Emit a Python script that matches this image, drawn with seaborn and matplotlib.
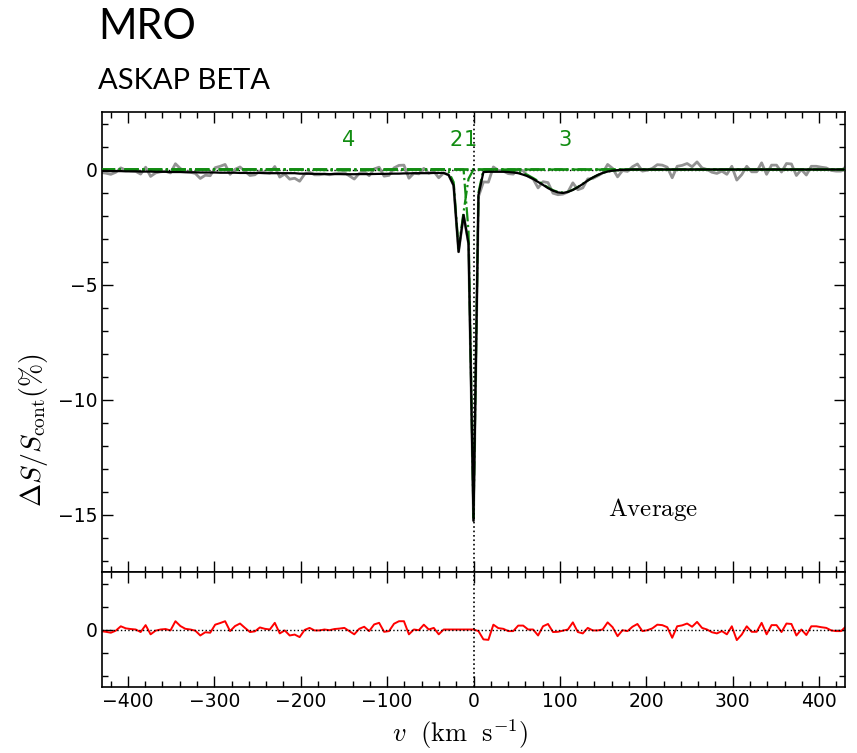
import numpy as np
import matplotlib
matplotlib.use("Agg")
import matplotlib.pyplot as plt
import seaborn as sns
from matplotlib.ticker import MultipleLocator, FixedLocator

sns.set_style("ticks")
plt.rcParams["font.family"] = ["DejaVu Sans"]
plt.rcParams["mathtext.fontset"] = "cm"
plt.rcParams["text.color"] = "black"

# ---- data ----
chan_width = 5.75
v = np.arange(-75, 76) * chan_width  # channel velocities (km/s)

resid = [-0.07, -0.10, -0.14, -0.05, 0.14, 0.05, 0.02, 0.00, -0.11, 0.19,
         -0.21, -0.05, 0.00, 0.02, -0.04, 0.36, 0.15, 0.03, 0.00, -0.05,
         -0.26, -0.12, -0.14, 0.21, 0.28, 0.36, -0.07, 0.15, 0.26, 0.07,
         -0.11, -0.08, 0.09, 0.03, 0.00, 0.29, -0.17, -0.04, -0.26, -0.22,
         -0.33, -0.02, 0.07, -0.04, -0.04, 0.00, -0.03, 0.02, 0.04, 0.07,
         -0.07, -0.21, 0.03, 0.12, -0.07, 0.22, 0.29, -0.10, -0.07, 0.25,
         0.36, 0.36, -0.21, 0.00, -0.03, 0.21, 0.00, 0.07, -0.21, 0.00,
         0.00, 0.00, 0.00, 0.00, 0.00, 0.00, -0.07, -0.43, -0.45, 0.21,
         0.06, 0.03, -0.07, -0.07, 0.17, 0.17, 0.00, 0.00, -0.26, 0.14,
         0.24, -0.11, -0.10, -0.05, 0.00, 0.31, -0.11, -0.17, 0.07, -0.04,
         -0.04, 0.00, 0.31, 0.10, -0.29, -0.03, -0.07, 0.12, 0.24, -0.07,
         -0.03, 0.05, 0.21, 0.19, 0.10, -0.36, 0.14, 0.18, 0.26, 0.12,
         0.33, 0.07, 0.00, -0.12, -0.17, -0.07, -0.21, 0.14, -0.46, -0.22,
         0.14, -0.10, -0.10, 0.29, -0.21, 0.19, 0.19, -0.11, 0.26, 0.24,
         -0.26, 0.00, -0.24, 0.14, 0.14, 0.10, 0.07, -0.04, -0.07, -0.07,
         0.14]

baseline = [-0.06, -0.06, -0.07, -0.07, -0.07, -0.08, -0.08, -0.08, -0.09, -0.09,
            -0.09, -0.10, -0.10, -0.10, -0.11, -0.11, -0.11, -0.12, -0.12, -0.12,
            -0.13, -0.13, -0.13, -0.13, -0.14, -0.14, -0.14, -0.14, -0.15, -0.15,
            -0.15, -0.15, -0.15, -0.16, -0.16, -0.16, -0.16, -0.16, -0.16, -0.16,
            -0.17, -0.17, -0.17, -0.17, -0.17, -0.17, -0.17, -0.17, -0.17, -0.17,
            -0.17, -0.17, -0.17, -0.17, -0.17, -0.17, -0.17, -0.17, -0.17, -0.17,
            -0.17, -0.17, -0.17, -0.16, -0.16, -0.16, -0.16, -0.15, -0.15, -0.15,
            -0.14, -0.14, -0.13, -0.13, -0.12, -0.12, -0.11, -0.11, -0.10, -0.10,
            -0.09, -0.08, -0.08, -0.07, -0.06, -0.06, -0.05, -0.04, -0.04, -0.03,
            -0.03, -0.02, -0.02, -0.02, -0.01, -0.01, -0.01, -0.01, 0.00, 0.00]

# Gaussian components: (first channel index, values)
comp1_start, comp1_vals = 73, [0.0, -2.7, -15.15, -1.0, 0.0]
comp2_start, comp2_vals = 70, [-0.1, -0.55, -3.45, -1.85, -0.4]
comp3_start, comp3_vals = 80, [-0.01, -0.02, -0.03, -0.06, -0.10, -0.165, -0.25, -0.37,
                               -0.50, -0.64, -0.78, -0.90, -0.976, -1.0, -0.967, -0.88,
                               -0.76, -0.62, -0.48, -0.35, -0.24, -0.15, -0.09, -0.05,
                               -0.03, -0.015, -0.01]
comp4_start, comp4_vals = 40, [-0.01, -0.01, -0.015, -0.02, -0.02, -0.025, -0.03, -0.03,
                               -0.03, -0.035, -0.035, -0.035, -0.03, -0.03, -0.03, -0.025,
                               -0.02, -0.02, -0.015, -0.01, -0.01]

comp_labels = ["1", "2", "3", "4"]
comp_label_v = [-4, -20, 106, -145]

# ---- assemble series ----
n = len(v)
def place(start, vals):
    a = np.zeros(n)
    a[start:start + len(vals)] = vals
    return a

comps = [place(comp1_start, comp1_vals), place(comp2_start, comp2_vals),
         place(comp3_start, comp3_vals), place(comp4_start, comp4_vals)]
base = place(0, baseline)
model = base + sum(comps)
resid = np.array(resid)
observed = model + resid

# ---- figure ----
W, H = 857, 753
fig = plt.figure(figsize=(W / 100, H / 100), dpi=100)
L, R = 102 / W, 845 / W
ax = fig.add_axes([L, 1 - 572 / H, R - L, (572 - 112) / H])
axr = fig.add_axes([L, 1 - 687 / H, R - L, (687 - 572) / H], sharex=ax)

green = "#118c11"
sns.lineplot(x=v, y=observed, ax=ax, color="#939393", lw=2.0, estimator=None, zorder=2)
for c in comps:
    sns.lineplot(x=v, y=c, ax=ax, color=green, lw=1.6, ls="-.", estimator=None, zorder=3)
sns.lineplot(x=v, y=model, ax=ax, color="black", lw=1.6, estimator=None, zorder=4)
ax.axvline(0, color="black", ls=":", lw=1.2, zorder=5)
ax.axhline(0, color="black", ls=":", lw=1.0, zorder=1)

for lab, lv in zip(comp_labels, comp_label_v):
    ax.text(lv, 1.3, lab, color=green, fontsize=15, ha="center", va="center")
ax.text(208, -14.8, r"$\mathrm{Average}$", fontsize=18, ha="center", va="center")

sns.lineplot(x=v, y=resid, ax=axr, color="red", lw=1.4, estimator=None)
axr.axvline(0, color="black", ls=":", lw=1.2)
axr.axhline(0, color="black", ls=":", lw=1.0)

ax.set_xlim(-430, 430)
ax.set_ylim(-17.5, 2.5)
axr.set_ylim(-2.5, 2.5)

for a in (ax, axr):
    a.xaxis.set_major_locator(MultipleLocator(100))
    a.xaxis.set_minor_locator(MultipleLocator(20))
    a.tick_params(which="both", direction="in", top=True, right=True, labelsize=13.5,
                  colors="black", width=1.0)
    a.tick_params(which="major", length=8)
    a.tick_params(which="minor", length=4)
    for s in a.spines.values():
        s.set_linewidth(1.2)
        s.set_color("black")
    a.set_xlabel("")
    a.set_ylabel("")

ax.yaxis.set_major_locator(MultipleLocator(5))
ax.yaxis.set_minor_locator(MultipleLocator(1))
ax.tick_params(labelbottom=False)
axr.yaxis.set_major_locator(FixedLocator([0]))
axr.yaxis.set_minor_locator(FixedLocator([-2, -1, 1, 2]))

fig.text(460 / W, 1 - 734 / H, r"$v\ \ ({\rm km\ \ s^{-1}})$", fontsize=19, ha="center", va="center")
fig.text(33 / W, 1 - 430 / H, r"$\Delta S/S_{\rm cont}(\%)$", fontsize=20,
         ha="center", va="center", rotation=90)

fig.text(98 / W, 1 - 39 / H, "MRO", fontsize=30, color="black",
         family=["Lato", "DejaVu Sans"], va="baseline")
fig.text(98 / W, 1 - 89 / H, "ASKAP BETA", fontsize=21, color="black",
         family=["Lato", "DejaVu Sans"], va="baseline")

fig.savefig("out.png", dpi=100, facecolor="white")
